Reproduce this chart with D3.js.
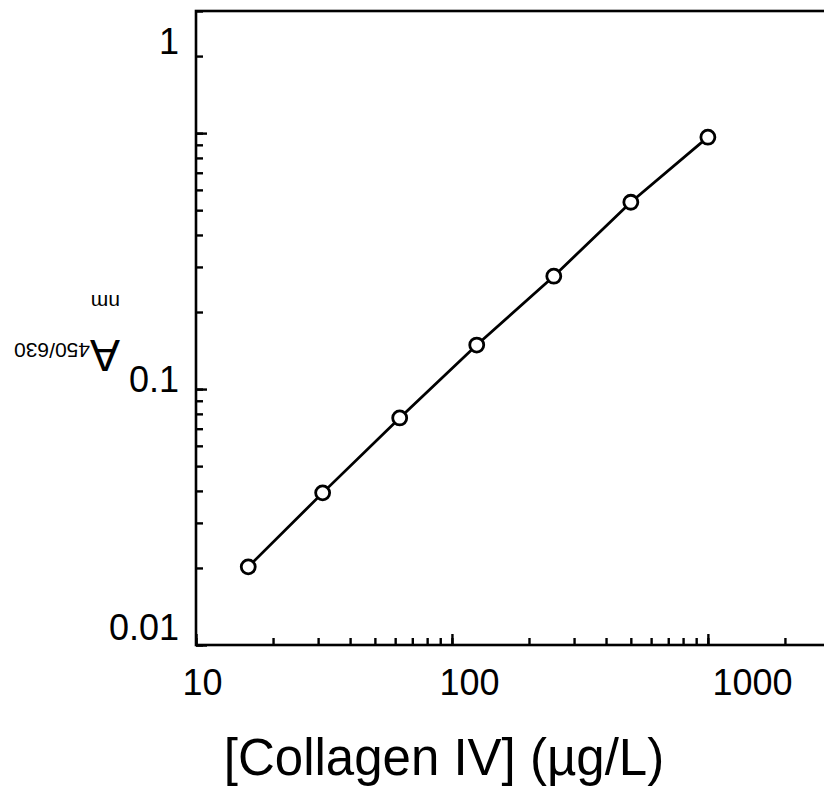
<!DOCTYPE html>
<html>
<head>
<meta charset="utf-8">
<script src="https://cdn.jsdelivr.net/npm/d3@7"></script>
<style>
  body { margin: 0; background: #fff; }
  text { font-family: "Liberation Sans", Arial, sans-serif; fill: #000; }
</style>
</head>
<body>
<div id="chart"></div>
<script>
// standard curve values
const collagen = [16, 31.25, 62.5, 125, 250, 500, 1000];   // µg/L
const absorbance = [0.0202, 0.0393, 0.0771, 0.1486, 0.276, 0.537, 0.964];
const xTickLabels = [10, 100, 1000];
const yTickLabels = [0.01, 0.1, 1];

(function standardCurve() {
    const width = 824,
        height = 787;

    const svg = d3.select("#chart")
        .append("svg")
        .attr("width", width)
        .attr("height", height);

    const data = collagen.map((c, i) => ({ c: c, a: absorbance[i] }));

    // log scales, right edge of the frame falls just outside the picture
    const x = d3.scaleLog().domain([10, 3000]).range([196, 830]);
    const y = d3.scaleLog().domain([0.01, 3]).range([645, 11]);

    // the original puts its tick labels a bit off the ticks, so they get their own scales
    const xLabel = d3.scaleLog().domain(xTickLabels).range([202, 469, 752]);
    const yLabel = d3.scaleLog().domain(yTickLabels).range([628, 380, 42]);

    // minor ticks (inward)
    svg.append("g")
        .attr("transform", `translate(0,${y.range()[0]})`)
        .call(d3.axisBottom(x).tickValues(x.ticks()).tickSize(-7).tickFormat(""))
        .call(g => g.select(".domain").remove())
        .call(g => g.selectAll("line").attr("stroke-width", 2.4));

    svg.append("g")
        .attr("transform", `translate(${x.range()[0]},0)`)
        .call(d3.axisLeft(y).tickValues(y.ticks()).tickSize(-7).tickFormat(""))
        .call(g => g.select(".domain").remove())
        .call(g => g.selectAll("line").attr("stroke-width", 2.4));

    // major ticks
    svg.append("g")
        .attr("transform", `translate(0,${y.range()[0]})`)
        .call(d3.axisBottom(x).tickValues(xTickLabels).tickSize(-11).tickFormat(""))
        .call(g => g.select(".domain").remove())
        .call(g => g.selectAll("line").attr("stroke-width", 2.4));

    svg.append("g")
        .attr("transform", `translate(${x.range()[0]},0)`)
        .call(d3.axisLeft(y).tickValues(yTickLabels).tickSize(-11).tickFormat(""))
        .call(g => g.select(".domain").remove())
        .call(g => g.selectAll("line").attr("stroke-width", 2.4));

    // tick labels
    svg.append("g")
        .attr("transform", `translate(0,${y.range()[0]})`)
        .call(d3.axisBottom(xLabel).tickValues(xTickLabels).tickSize(0).tickPadding(24)
            .tickFormat(d3.format("d")))
        .call(g => g.select(".domain").remove())
        .call(g => g.selectAll("text").attr("font-size", 36).attr("font-family", null));

    svg.append("g")
        .attr("transform", `translate(${x.range()[0]},0)`)
        .call(d3.axisLeft(yLabel).tickValues(yTickLabels).tickSize(0).tickPadding(17)
            .tickFormat(d => String(d)))
        .call(g => g.select(".domain").remove())
        .call(g => g.selectAll("text").attr("font-size", 36).attr("font-family", null));

    // frame
    svg.append("rect")
        .attr("x", x.range()[0])
        .attr("y", y.range()[1])
        .attr("width", x.range()[1] - x.range()[0])
        .attr("height", y.range()[0] - y.range()[1])
        .attr("fill", "none")
        .attr("stroke", "#000")
        .attr("stroke-width", 2.6);

    // curve
    const line = d3.line()
        .x(d => x(d.c))
        .y(d => y(d.a));

    svg.append("path")
        .datum(data)
        .attr("d", line)
        .attr("fill", "none")
        .attr("stroke", "#000")
        .attr("stroke-width", 2.8);

    svg.append("g")
        .selectAll("circle")
        .data(data)
        .join("circle")
            .attr("cx", d => x(d.c))
            .attr("cy", d => y(d.a))
            .attr("r", 7)
            .attr("fill", "#fff")
            .attr("stroke", "#000")
            .attr("stroke-width", 2.8);

    // x title
    svg.append("text")
        .attr("x", 444)
        .attr("y", 775)
        .attr("text-anchor", "middle")
        .attr("font-size", 51)
        .text("[Collagen IV] (µg/L)");

    // y title, drawn upside down like the original
    const yt = svg.append("g")
        .attr("transform", "rotate(180,66,333)");

    yt.append("text")
        .attr("x", 12)
        .attr("y", 326)
        .attr("font-size", 45)
        .text("A")
        .append("tspan")
        .attr("font-size", 21)
        .attr("dy", -3)
        .text("450/630");

    yt.append("text")
        .attr("x", 12)
        .attr("y", 371)
        .attr("font-size", 21)
        .text("nm");
})();
</script>
</body>
</html>
